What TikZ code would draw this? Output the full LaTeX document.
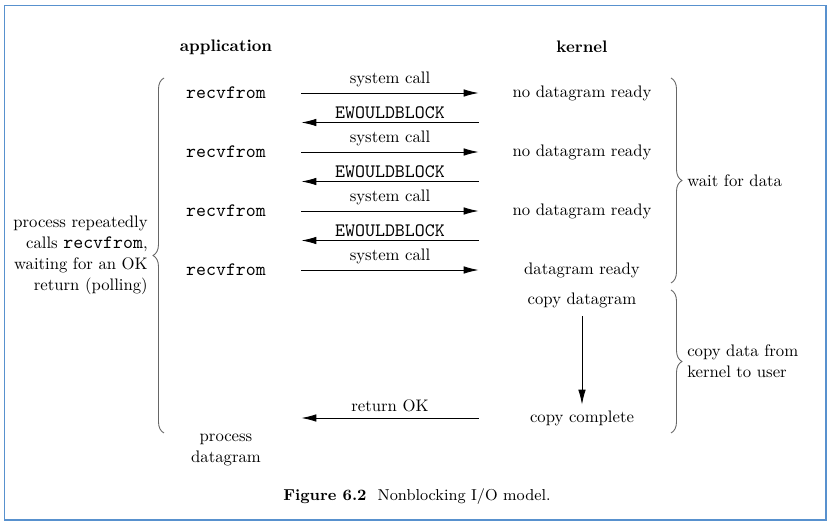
\documentclass[tikz,border=0pt]{standalone}
\usepackage{tikz}
\usetikzlibrary{arrows.meta, positioning, calc, decorations.pathreplacing}
\definecolor{framecol}{RGB}{88,145,206}
\newcommand{\code}[1]{{\fontsize{10.8}{12}\selectfont\ttfamily #1}}
\tikzstyle{title} = [font=\fontsize{9.5}{12}\selectfont\bfseries]
\tikzstyle{appcol} = [minimum width=3cm, minimum height=0.4cm, inner sep=0pt, text centered]
\tikzstyle{kercol} = [minimum width=4.12cm, minimum height=0.4cm, inner sep=0pt, text centered]
\tikzstyle{arrow} = [line width=0.5pt, -{Latex[length=0.3cm, width=0.15cm]}]
\tikzstyle{brace} = [decorate, decoration={brace, amplitude=0.22cm}, draw=black!60, line width=0.5pt]
\begin{document}
\begin{tikzpicture}[node distance=1.18cm, font=\fontsize{9.5}{12}\selectfont]
		\useasboundingbox (0,0) rectangle (16.7,-10.6);
		\draw [framecol, line width=0.8pt] (0.09,-0.11) rectangle (16.52,-10.40);
		
		\node (app) [title] at (4.52,-0.94) {application};
		\node (ker) [title, right of=app, xshift=5.94cm] {kernel};
		
		\node (rec1) [appcol, below of=app, yshift=0.26cm] {\code{recvfrom}};
		\node (rec2) [appcol, below of=rec1] {\code{recvfrom}};
		\node (rec3) [appcol, below of=rec2] {\code{recvfrom}};
		\node (rec4) [appcol, below of=rec3] {\code{recvfrom}};
		
		\node (ker1) [kercol, below of=ker, yshift=0.26cm] {no datagram ready};
		\node (ker2) [kercol, below of=ker1] {no datagram ready};
		\node (ker3) [kercol, below of=ker2] {no datagram ready};
		\node (ker4) [kercol, below of=ker3] {datagram ready};
		
		\node (cd) [kercol, below of=ker4, yshift=0.58cm] {copy datagram};
		\node (cc) [kercol, below of=cd, yshift=-1.18cm] {copy complete};
		
		\node (pd) [below of=rec4, yshift=-2.42cm][text width=3cm, align=center] {process \\ datagram};
		
		\draw [arrow] (rec1) -- node[above] {system call} (ker1);
		\draw [arrow] ($(ker1.west)!0.5!(ker2.west)$) -- node[above, inner sep=2pt] {\code{EWOULDBLOCK}} ($(rec1.east)!0.5!(rec2.east)$);
		\draw [arrow] (rec2) -- node[above] {system call} (ker2);
		\draw [arrow] ($(ker2.west)!0.5!(ker3.west)$) -- node[above, inner sep=2pt] {\code{EWOULDBLOCK}} ($(rec2.east)!0.5!(rec3.east)$);
		\draw [arrow] (rec3) -- node[above] {system call} (ker3);
		\draw [arrow] ($(ker3.west)!0.5!(ker4.west)$) -- node[above, inner sep=2pt] {\code{EWOULDBLOCK}} ($(rec3.east)!0.5!(rec4.east)$);
		\draw [arrow] (rec4) -- node[above] {system call} (ker4);
		\draw [arrow, shorten <=0.12cm, shorten >=0.06cm] (cd) -- (cc);
		\draw [arrow] (cc.west) -- node[above] {return OK} (cc.west -| rec4.east);
		
		% braces
		\coordinate (ltop) at ($(rec1)+(-1.24,0.3)$);
		\coordinate (lbot) at ($(cc -| ltop)+(0,-0.3)$);
		\coordinate (wtop) at ($(ker1)+(1.78,0.3)$);
		\coordinate (wbot) at ($(ker4 -| wtop)+(0,-0.26)$);
		\coordinate (ctop) at ($(cd -| wtop)+(0,0.2)$);
		\coordinate (cbot) at ($(cc -| wtop)+(0,-0.3)$);
		\draw [brace] (lbot) -- node[left=0.2cm, align=right] {process repeatedly \\ calls \code{recvfrom}, \\ waiting for an OK \\ return (polling)} (ltop);
		\draw [brace] (wtop) -- node[right=0.2cm, align=left] {wait for data} (wbot);
		\draw [brace] (ctop) -- node[right=0.2cm, align=left] {copy data from \\ kernel to user} (cbot);
		
		\node (cap) at (8.34,-9.94) {\fontsize{9}{11}\selectfont\textbf{Figure 6.2}\hspace{0.7em}Nonblocking I/O model.};
		\end{tikzpicture}
\end{document}
